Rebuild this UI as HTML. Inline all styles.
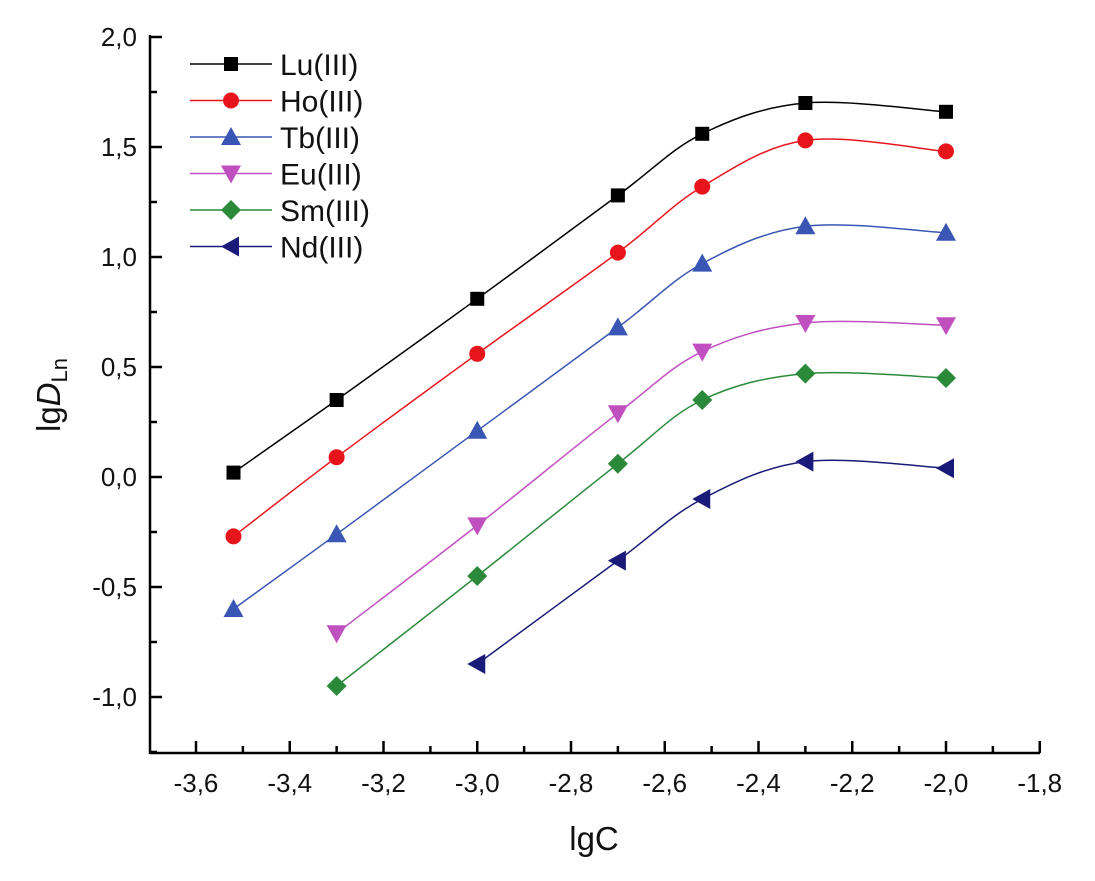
<!DOCTYPE html>
<html><head><meta charset="utf-8"><style>
html,body{margin:0;padding:0;background:#fff;}
svg{display:block;font-family:"Liberation Sans",Arial,sans-serif;}
</style></head><body>
<svg id="chart" width="1095" height="881" viewBox="0 0 1095 881"></svg>
<script>
const xValues=[-3.52,-3.3,-3.0,-2.7,-2.52,-2.3,-2.0];
const seriesNames=["Lu(III)","Ho(III)","Tb(III)","Eu(III)","Sm(III)","Nd(III)"];
const luValues=[0.02,0.35,0.81,1.28,1.56,1.70,1.66];
const hoValues=[-0.27,0.09,0.56,1.02,1.32,1.53,1.48];
const tbValues=[-0.60,-0.26,0.21,0.68,0.97,1.14,1.11];
const euValues=[null,-0.71,-0.22,0.29,0.57,0.70,0.69];
const smValues=[null,-0.95,-0.45,0.06,0.35,0.47,0.45];
const ndValues=[null,null,-0.85,-0.38,-0.10,0.07,0.04];
const xTicks=[-3.6,-3.4,-3.2,-3.0,-2.8,-2.6,-2.4,-2.2,-2.0,-1.8];
const yTicks=[-1.0,-0.5,0.0,0.5,1.0,1.5,2.0];

const NS="http://www.w3.org/2000/svg";
const svg=document.getElementById('chart');
const X0=150,X1=1040,Y0=753;
function sx(v){return 196+(v+3.6)*468.75;}
function sy(v){return 37+(2-v)/0.5*110;}
function el(t,a,p){const e=document.createElementNS(NS,t);for(const k in a)e.setAttribute(k,a[k]);(p||svg).appendChild(e);return e;}
function fmt(v){return v.toFixed(1).replace('.',',').replace(/^-0,0$/,'0,0');}

const axes=el('g',{});


const xa=el('line',{x1:X0,y1:Y0,x2:X1,y2:Y0,stroke:'#000','stroke-width':2.5},axes);


const ya=el('line',{x1:X0,y1:Y0+1,x2:X0,y2:35,stroke:'#000','stroke-width':2.5},axes);


xTicks.forEach((t,i)=>{
  const x=sx(t);
  el('line',{x1:x,y1:Y0,x2:x,y2:Y0-12,stroke:'#000','stroke-width':2.5},axes);
  if(i<xTicks.length-1){const m=sx(t+0.1);el('line',{x1:m,y1:Y0,x2:m,y2:Y0-7,stroke:'#000','stroke-width':2.5},axes);}
  const tx=el('text',{x:x,y:792,'font-size':26,'text-anchor':'middle',fill:'#111'},axes);
  tx.textContent=fmt(t);
  
  
});
yTicks.forEach((t,i)=>{
  const y=sy(t);
  el('line',{x1:X0,y1:y,x2:X0+12,y2:y,stroke:'#000','stroke-width':2.5},axes);
  const m=sy(t-0.25);el('line',{x1:X0,y1:m,x2:X0+7,y2:m,stroke:'#000','stroke-width':2.5},axes);
  const tx=el('text',{x:137,y:y+9,'font-size':26,'text-anchor':'end',fill:'#111'},axes);
  tx.textContent=fmt(t);
  
  
});
const xt=el('text',{x:594,y:850,'font-size':33,'text-anchor':'middle',fill:'#111'});
xt.textContent='lgC';


const yt=el('text',{transform:'translate(60,395) rotate(-90)','font-size':33,'text-anchor':'middle',fill:'#111'});
yt.innerHTML='lg<tspan font-style="italic">D</tspan><tspan font-size="22" dy="7">Ln</tspan>';



const colors=['#000000','#e8141c','#3a56b4','#c050c0','#2a8a3a','#1a1a78'];
const data=[luValues,hoValues,tbValues,euValues,smValues,ndValues];
const shapes=['square','circle','up','down','diamond','left'];
function marker(shape,x,y,c,g){
  let e;
  if(shape==='square')e=el('rect',{x:x-7,y:y-7,width:14,height:14,fill:c},g);
  else if(shape==='circle')e=el('circle',{cx:x,cy:y,r:8,fill:c},g);
  else if(shape==='up')e=el('polygon',{points:`${x},${y-10} ${x+10},${y+8} ${x-10},${y+8}`,fill:c},g);
  else if(shape==='down')e=el('polygon',{points:`${x},${y+10} ${x+10},${y-8} ${x-10},${y-8}`,fill:c},g);
  else if(shape==='diamond')e=el('polygon',{points:`${x},${y-10} ${x+10},${y} ${x},${y+10} ${x-10},${y}`,fill:c},g);
  else e=el('polygon',{points:`${x-10},${y} ${x+8},${y-10} ${x+8},${y+10}`,fill:c},g);
  return e;
}
function smooth(pts){
  let d=`M${pts[0][0]},${pts[0][1]}`;
  for(let i=0;i<pts.length-1;i++){
    const p0=pts[Math.max(0,i-1)],p1=pts[i],p2=pts[i+1],p3=pts[Math.min(pts.length-1,i+2)];
    const c1=[p1[0]+(p2[0]-p0[0])/6,p1[1]+(p2[1]-p0[1])/6];
    const c2=[p2[0]-(p3[0]-p1[0])/6,p2[1]-(p3[1]-p1[1])/6];
    d+=` C${c1[0]},${c1[1]} ${c2[0]},${c2[1]} ${p2[0]},${p2[1]}`;
  }
  return d;
}
data.forEach((vals,si)=>{
  const g=el('g',{});
  
  
  const pts=[];
  vals.forEach((v,i)=>{if(v!==null)pts.push([sx(xValues[i]),sy(v)]);});
  const ln=el('path',{d:smooth(pts),fill:'none',stroke:colors[si],'stroke-width':1.5},g);
  
  
  pts.forEach(p=>{
    const m=marker(shapes[si],p[0],p[1],colors[si],g);
    
    
  });
  const ly=46+si*36.5;
  const lg=el('g',{});
  
  
  el('line',{x1:190,y1:ly+18,x2:272,y2:ly+18,stroke:colors[si],'stroke-width':1.5},lg);
  marker(shapes[si],231,ly+18,colors[si],lg);
  const t=el('text',{x:280,y:ly+29,'font-size':30,fill:'#111'},lg);
  t.textContent=seriesNames[si];
});
</script>
</body></html>
